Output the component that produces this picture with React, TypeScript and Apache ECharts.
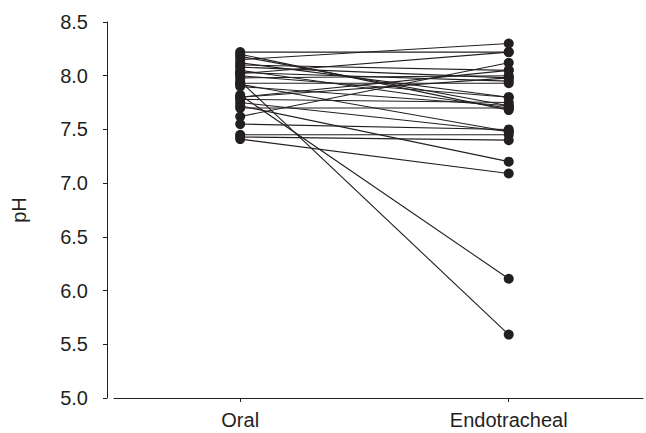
import React, { useEffect, useRef } from "react";
import * as echarts from "echarts";

const categories = ["Oral", "Endotracheal"];
const yTicks = [5.0, 5.5, 6.0, 6.5, 7.0, 7.5, 8.0, 8.5];
const oralValues = [8.22, 8.2, 8.18, 8.15, 8.12, 8.1, 8.08, 8.05, 8.03, 8.02, 8.0, 7.98, 7.95, 7.93, 7.92, 7.9, 7.82, 7.8, 7.78, 7.75, 7.72, 7.7, 7.62, 7.55, 7.45, 7.43, 7.41, 7.8];
const endoValues = [8.22, 7.68, 7.72, 8.3, 7.8, 8.05, 7.98, 7.7, 7.95, 8.22, 7.8, 8.0, 5.59, 7.93, 7.48, 7.72, 6.11, 7.98, 7.75, 7.48, 7.2, 7.7, 8.12, 7.5, 7.45, 7.4, 7.09, 8.05];

const FONT = "'Liberation Sans', Arial, Helvetica, sans-serif";
const INK = "#231f20";

export default function App() {
  const ref = useRef<HTMLDivElement>(null);
  useEffect(() => {
    document.body.style.margin = "0";
    if (!ref.current) return;
    const chart = echarts.init(ref.current, null, { renderer: "svg" });
    const series = oralValues.map((o, i) => ({
      type: "line",
      data: [
        [1, o],
        [2, endoValues[i]],
      ],
      symbol: "circle",
      symbolSize: 10,
      itemStyle: { color: INK },
      lineStyle: { color: INK, width: 1.1 },
      silent: true,
    }));
    chart.setOption({
      animation: false,
      grid: { left: 114, right: 3, top: 22, bottom: 35, containLabel: false },
      xAxis: {
        type: "value",
        min: 0.53,
        max: 2.5,
        splitLine: { show: false },
        axisLine: { show: true, lineStyle: { color: INK, width: 1 } },
        axisTick: { show: true, length: 4, customValues: [1, 2], lineStyle: { color: INK } },
        axisLabel: {
          customValues: [1, 2],
          formatter: (v: number) => categories[Math.round(v) - 1] ?? "",
          fontFamily: FONT,
          fontSize: 20,
          color: INK,
          margin: 12,
        },
      },
      yAxis: {
        type: "value",
        min: yTicks[0],
        max: yTicks[yTicks.length - 1],
        interval: 0.5,
        offset: 7,
        name: "pH",
        nameLocation: "middle",
        nameRotate: 90,
        nameGap: 78,
        nameTextStyle: { fontFamily: FONT, fontSize: 20, color: INK },
        splitLine: { show: false },
        axisLine: { show: true, lineStyle: { color: INK, width: 1 } },
        axisTick: { show: true, length: 4, lineStyle: { color: INK } },
        axisLabel: {
          formatter: (v: number) => v.toFixed(1),
          fontFamily: FONT,
          fontSize: 20,
          color: INK,
          margin: 19,
        },
      },
      series,
    });
    return () => chart.dispose();
  }, []);
  return <div ref={ref} style={{ width: 646, height: 433 }} />;
}
